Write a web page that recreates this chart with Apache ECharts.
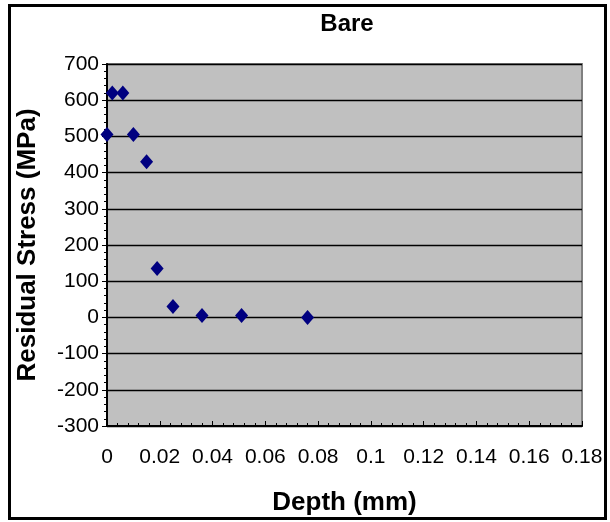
<!DOCTYPE html>
<html>
<head>
<meta charset="utf-8">
<script src="https://cdn.jsdelivr.net/npm/echarts@6/dist/echarts.min.js"></script>
<style>
  html, body { margin: 0; padding: 0; background: #fff; }
  #chart { width: 610px; height: 522px; }
</style>
</head>
<body>
<div id="chart"></div>
<script>
// measured depth (mm) and residual stress (MPa)
const depth = [0, 0.002, 0.006, 0.010, 0.015, 0.019, 0.025, 0.036, 0.051, 0.076];
const stress = [505, 620, 620, 505, 430, 135, 30, 5, 5, 0];

const chart = echarts.init(document.getElementById('chart'), null, { renderer: 'canvas' });
const font = 'Liberation Sans, Arial, sans-serif';

const option = {
  backgroundColor: '#fff',
  animation: false,
  title: {
    text: 'Bare',
    left: 342,
    textAlign: 'center',
    top: 7,
    textStyle: { fontFamily: font, fontSize: 24, fontWeight: 'bold', color: '#000' }
  },
  graphic: [{
    type: 'rect',
    shape: { x: 9.5, y: 5.5, width: 596, height: 513 },
    style: { fill: 'none', stroke: '#000', lineWidth: 3 },
    silent: true
  }],
  grid: {
    left: 107, top: 64, right: 28, bottom: 96,
    show: true,
    backgroundColor: '#C0C0C0',
    borderColor: '#808080',
    borderWidth: 2
  },
  xAxis: {
    type: 'value',
    min: 0, max: 0.18, interval: 0.02,
    name: 'Depth (mm)',
    nameLocation: 'middle',
    nameGap: 64,
    nameTextStyle: { fontFamily: font, fontSize: 26, fontWeight: 'bold', color: '#000' },
    axisLine: { show: true, onZero: false, lineStyle: { color: '#000', width: 2 } },
    axisTick: { show: true, inside: true, length: 5, lineStyle: { color: '#000' } },
    minorTick: { show: true, splitNumber: 5, length: 3, lineStyle: { color: '#000' } },
    splitLine: { show: false },
    axisLabel: {
      margin: 21,
      fontFamily: font, fontSize: 21, color: '#000',
      formatter: v => String(+v.toFixed(2))
    }
  },
  yAxis: {
    type: 'value',
    min: -300, max: 700, interval: 100,
    name: 'Residual Stress (MPa)',
    nameLocation: 'middle',
    nameGap: 66,
    nameTextStyle: { fontFamily: font, fontSize: 26, fontWeight: 'bold', color: '#000' },
    axisLine: { show: true, onZero: false, lineStyle: { color: '#000', width: 2 } },
    axisTick: { show: true, length: 5, lineStyle: { color: '#000' } },
    minorTick: { show: true, splitNumber: 5, length: 3, lineStyle: { color: '#000' } },
    splitLine: { show: true, lineStyle: { color: '#000', width: 1.3 } },
    axisLabel: { margin: 8, fontFamily: font, fontSize: 21, color: '#000' }
  },
  series: [{
    type: 'scatter',
    data: depth.map((d, i) => [d, stress[i]]),
    symbol: 'diamond',
    symbolSize: [13, 15],
    itemStyle: { color: '#000080', opacity: 1 }
  }]
};

chart.setOption(option);
</script>
</body>
</html>
